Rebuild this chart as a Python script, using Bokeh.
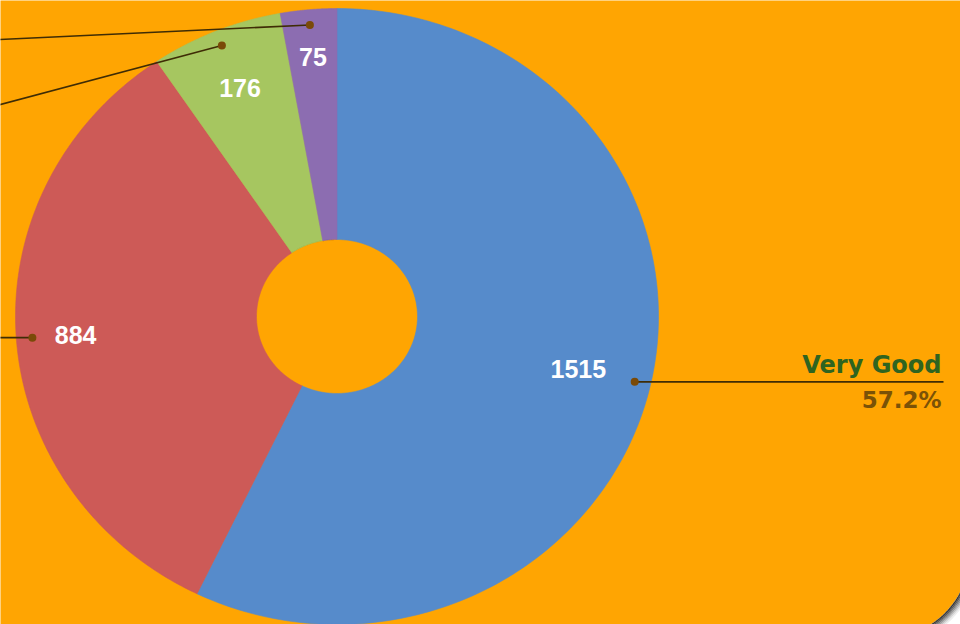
import numpy as np
from bokeh.plotting import figure
from bokeh.models import Range1d
from bokeh.core.properties import value
from bokeh.embed import file_html
from bokeh.resources import INLINE

# ---- data ----
categories = ["Very Good", "Good", "Fair", "Poor"]
counts = [1515, 884, 176, 75]
slice_colors = ["#568BCB", "#CD5A57", "#A6C660", "#8C6DB1"]

# ---- style / layout ----
BG = "#FFA502"
CX, CY = 336.5, 316.0      # pie centre (pixel-like data units)
RX, RY = 321.5, 308.0      # outer radii
IRX, IRY = 80.5, 77.0      # hole radii
LABEL_R = [0.77, 0.815, 0.80, 0.845]
DOT_R = 0.95

p = figure(width=960, height=624, x_range=Range1d(0, 960), y_range=Range1d(624, 0),
           output_backend="svg", toolbar_location=None, min_border=0)
p.axis.visible = False
p.grid.visible = False
p.outline_line_color = None
p.background_fill_color = BG
p.border_fill_color = BG

total = float(sum(counts))
fr = np.array(counts) / total
cum = np.concatenate([[0.0], np.cumsum(fr)])
a_start = np.deg2rad(90 - 360 * cum[:-1])
a_end = np.deg2rad(90 - 360 * cum[1:])
a_mid = (a_start + a_end) / 2

xs, ys = [], []
for a0, a1 in zip(a_start, a_end):
    t = np.linspace(a0, a1, 200)
    ox = CX + RX * np.cos(t)
    oy = CY - RY * np.sin(t)
    ix = CX + IRX * np.cos(t[::-1])
    iy = CY - IRY * np.sin(t[::-1])
    xs.append(list(np.concatenate([ox, ix])))
    ys.append(list(np.concatenate([oy, iy])))
p.patches(xs, ys, fill_color=slice_colors, line_color=slice_colors, line_width=0.6)

# value labels
lr = np.array(LABEL_R)
lx = CX + lr * RX * np.cos(a_mid)
ly = CY - lr * RY * np.sin(a_mid)
p.text(x=list(lx), y=list(ly), text=[str(c) for c in counts], text_color="white",
       text_font=value("Liberation Sans"), text_font_style="bold", text_font_size="25px",
       text_align="center", text_baseline="middle")

# leader lines with dots
dx = CX + DOT_R * RX * np.cos(a_mid)
dy = CY - DOT_R * RY * np.sin(a_mid)
targets = [(943.0, dy[0]), (-30.0, dy[1]), (0.0, 104.0), (0.0, 39.0)]
lxs, lys = [], []
for i, (tx, ty) in enumerate(targets):
    if i >= 2:
        sl = (ty - dy[i]) / (tx - dx[i])
        tx2 = -30.0
        ty = dy[i] + sl * (tx2 - dx[i])
        tx = tx2
    lxs.append([dx[i], tx])
    lys.append([dy[i], ty])
p.multi_line(lxs, lys, line_color="#3F2C05", line_width=1.6)
p.scatter(list(dx), list(dy), size=8, marker="circle", fill_color="#7A4A08", line_color=None)

# right label
pct = 100 * counts[0] / total
p.text(x=[941], y=[364], text=[categories[0]], text_color="#2F6420",
       text_font=value("DejaVu Sans"), text_font_style="bold", text_font_size="24px",
       text_align="right", text_baseline="alphabetic")
p.text(x=[941], y=[399], text=[f"{pct:.1f}%"], text_color="#7A5207",
       text_font=value("DejaVu Sans"), text_font_style="bold", text_font_size="23px",
       text_align="right", text_baseline="alphabetic")

# rounded chart-area corner at bottom right (white page with shadow)
CCX, CCY, CR = 885.0, 553.0, 84.0
t = np.linspace(0, np.pi / 2, 60)
arc_x = CCX + CR * np.cos(t)
arc_y = CCY + CR * np.sin(t)
wx = list(arc_x) + [CCX, 1100, 1100]
wy = list(arc_y) + [800, 800, CCY]
p.patch(wx, wy, fill_color="white", line_color=None)
grays = ["#3A3A3A", "#5A5A5A", "#7C7C7C", "#9C9C9C", "#BCBCBC", "#D8D8D8", "#EEEEEE"]
for k, g in enumerate(grays):
    r = CR + 0.8 + 1.3 * k
    p.line(list(CCX + r * np.cos(t)), list(CCY + r * np.sin(t)), line_color=g, line_width=1.6)

open("out.html", "w").write(file_html(p, INLINE))
